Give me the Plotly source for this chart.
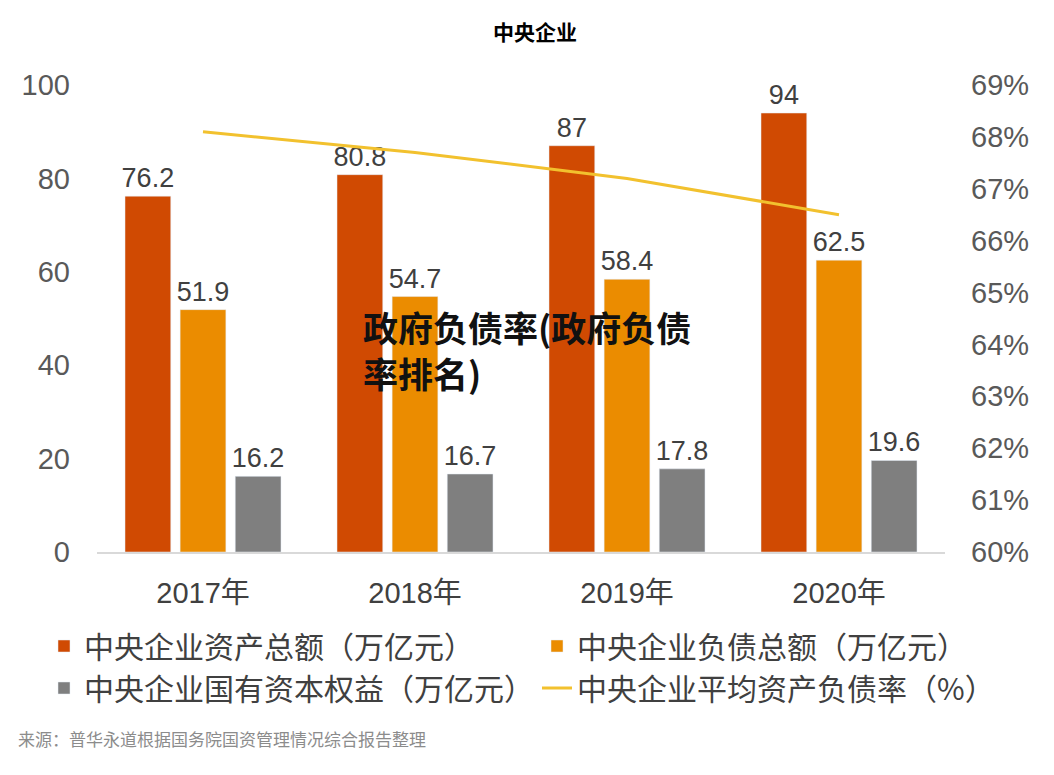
import plotly.graph_objects as go

categories = ["2017年", "2018年", "2019年", "2020年"]
assets = [76.2, 80.8, 87, 94]
liabilities = [51.9, 54.7, 58.4, 62.5]
equity = [16.2, 16.7, 17.8, 19.6]
debt_ratio = [68.1, 67.7, 67.2, 66.5]
left_ticks = [0, 20, 40, 60, 80, 100]
right_ticks = [60, 61, 62, 63, 64, 65, 66, 67, 68, 69]
right_labels = [f"{v}%" for v in right_ticks]

names = [
    "中央企业资产总额（万亿元）",
    "中央企业负债总额（万亿元）",
    "中央企业国有资本权益（万亿元）",
    "中央企业平均资产负债率（%）",
]
colors = ["#D04A02", "#EB8C00", "#7F7F7F", "#F2C12E"]
legend_ids = ["legend", "legend2", "legend", "legend2"]

FONT = "Liberation Sans, Arial, Noto Sans CJK SC, sans-serif"
CJK = "Noto Sans CJK SC, sans-serif"

# plot area in figure pixels
L, T, PW, PH = 89, 77, 848, 467
B = T + PH


def px(xp):
    return (xp - L) / PW


def py(yp):
    return (B - yp) / PH


fig = go.Figure()
for vals, name, col, lg in zip([assets, liabilities, equity], names[:3], colors[:3], legend_ids[:3]):
    fig.add_trace(go.Bar(
        x=categories, y=vals, name=name, marker_color=col, legend=lg,
        text=[f"{v:g}" for v in vals], textposition="outside",
        textfont=dict(size=27, color="#404040", family=FONT),
        constraintext="none", cliponaxis=False,
    ))

fig.add_trace(go.Scatter(
    x=categories, y=debt_ratio, name=names[3], yaxis="y2", legend=legend_ids[3],
    mode="lines", line=dict(color=colors[3], width=3),
))

legend_font = dict(size=30, color="#404040", family=CJK)
fig.update_layout(
    width=1054, height=775,
    paper_bgcolor="white", plot_bgcolor="white",
    margin=dict(l=L, r=1054 - L - PW, t=T, b=775 - B, autoexpand=False),
    barmode="group", bargap=0.22, bargroupgap=0.17,
    font=dict(family=FONT, color="#595959"),
    title=dict(text="<b>中央企业</b>", x=0.5, xanchor="center", y=1 - 25 / 775, yanchor="middle",
               font=dict(size=21, color="#000000", family=CJK)),
    xaxis=dict(showgrid=False, showline=True, linecolor="#D9D9D9", linewidth=2,
               ticks="", tickfont=dict(size=29, color="#404040", family=FONT),
               ticklabelstandoff=14),
    yaxis=dict(range=[0, 100], tickvals=left_ticks, showgrid=False, zeroline=False,
               ticks="", tickfont=dict(size=29, color="#595959", family=FONT),
               ticklabelstandoff=26),
    yaxis2=dict(range=[60, 69], tickvals=right_ticks, ticktext=right_labels, overlaying="y",
                side="right", showgrid=False, zeroline=False, ticks="",
                tickfont=dict(size=29, color="#595959", family=FONT),
                ticklabelstandoff=25),
    legend=dict(orientation="v", x=px(36), xanchor="left",
                y=py(612), yanchor="top", font=legend_font,
                itemwidth=30, tracegroupgap=0, bgcolor="rgba(0,0,0,0)"),
    legend2=dict(orientation="v", x=px(529), xanchor="left",
                 y=py(612), yanchor="top", font=legend_font,
                 itemwidth=30, tracegroupgap=0, bgcolor="rgba(0,0,0,0)"),
    showlegend=True,
)

fig.add_annotation(
    text="政府负债率(政府负债<br>率排名)", xref="paper", yref="paper",
    x=px(353), y=py(291), xanchor="left", yanchor="top",
    align="left", showarrow=False,
    font=dict(size=35, color="#111111", family=CJK, weight="bold"),
)
fig.add_annotation(
    text="来源：普华永道根据国务院国资管理情况综合报告整理", xref="paper", yref="paper",
    x=px(8), y=py(730), xanchor="left", yanchor="middle",
    showarrow=False, font=dict(size=17, color="#8C8C8C", family=CJK),
)

fig.write_html("out.html")
